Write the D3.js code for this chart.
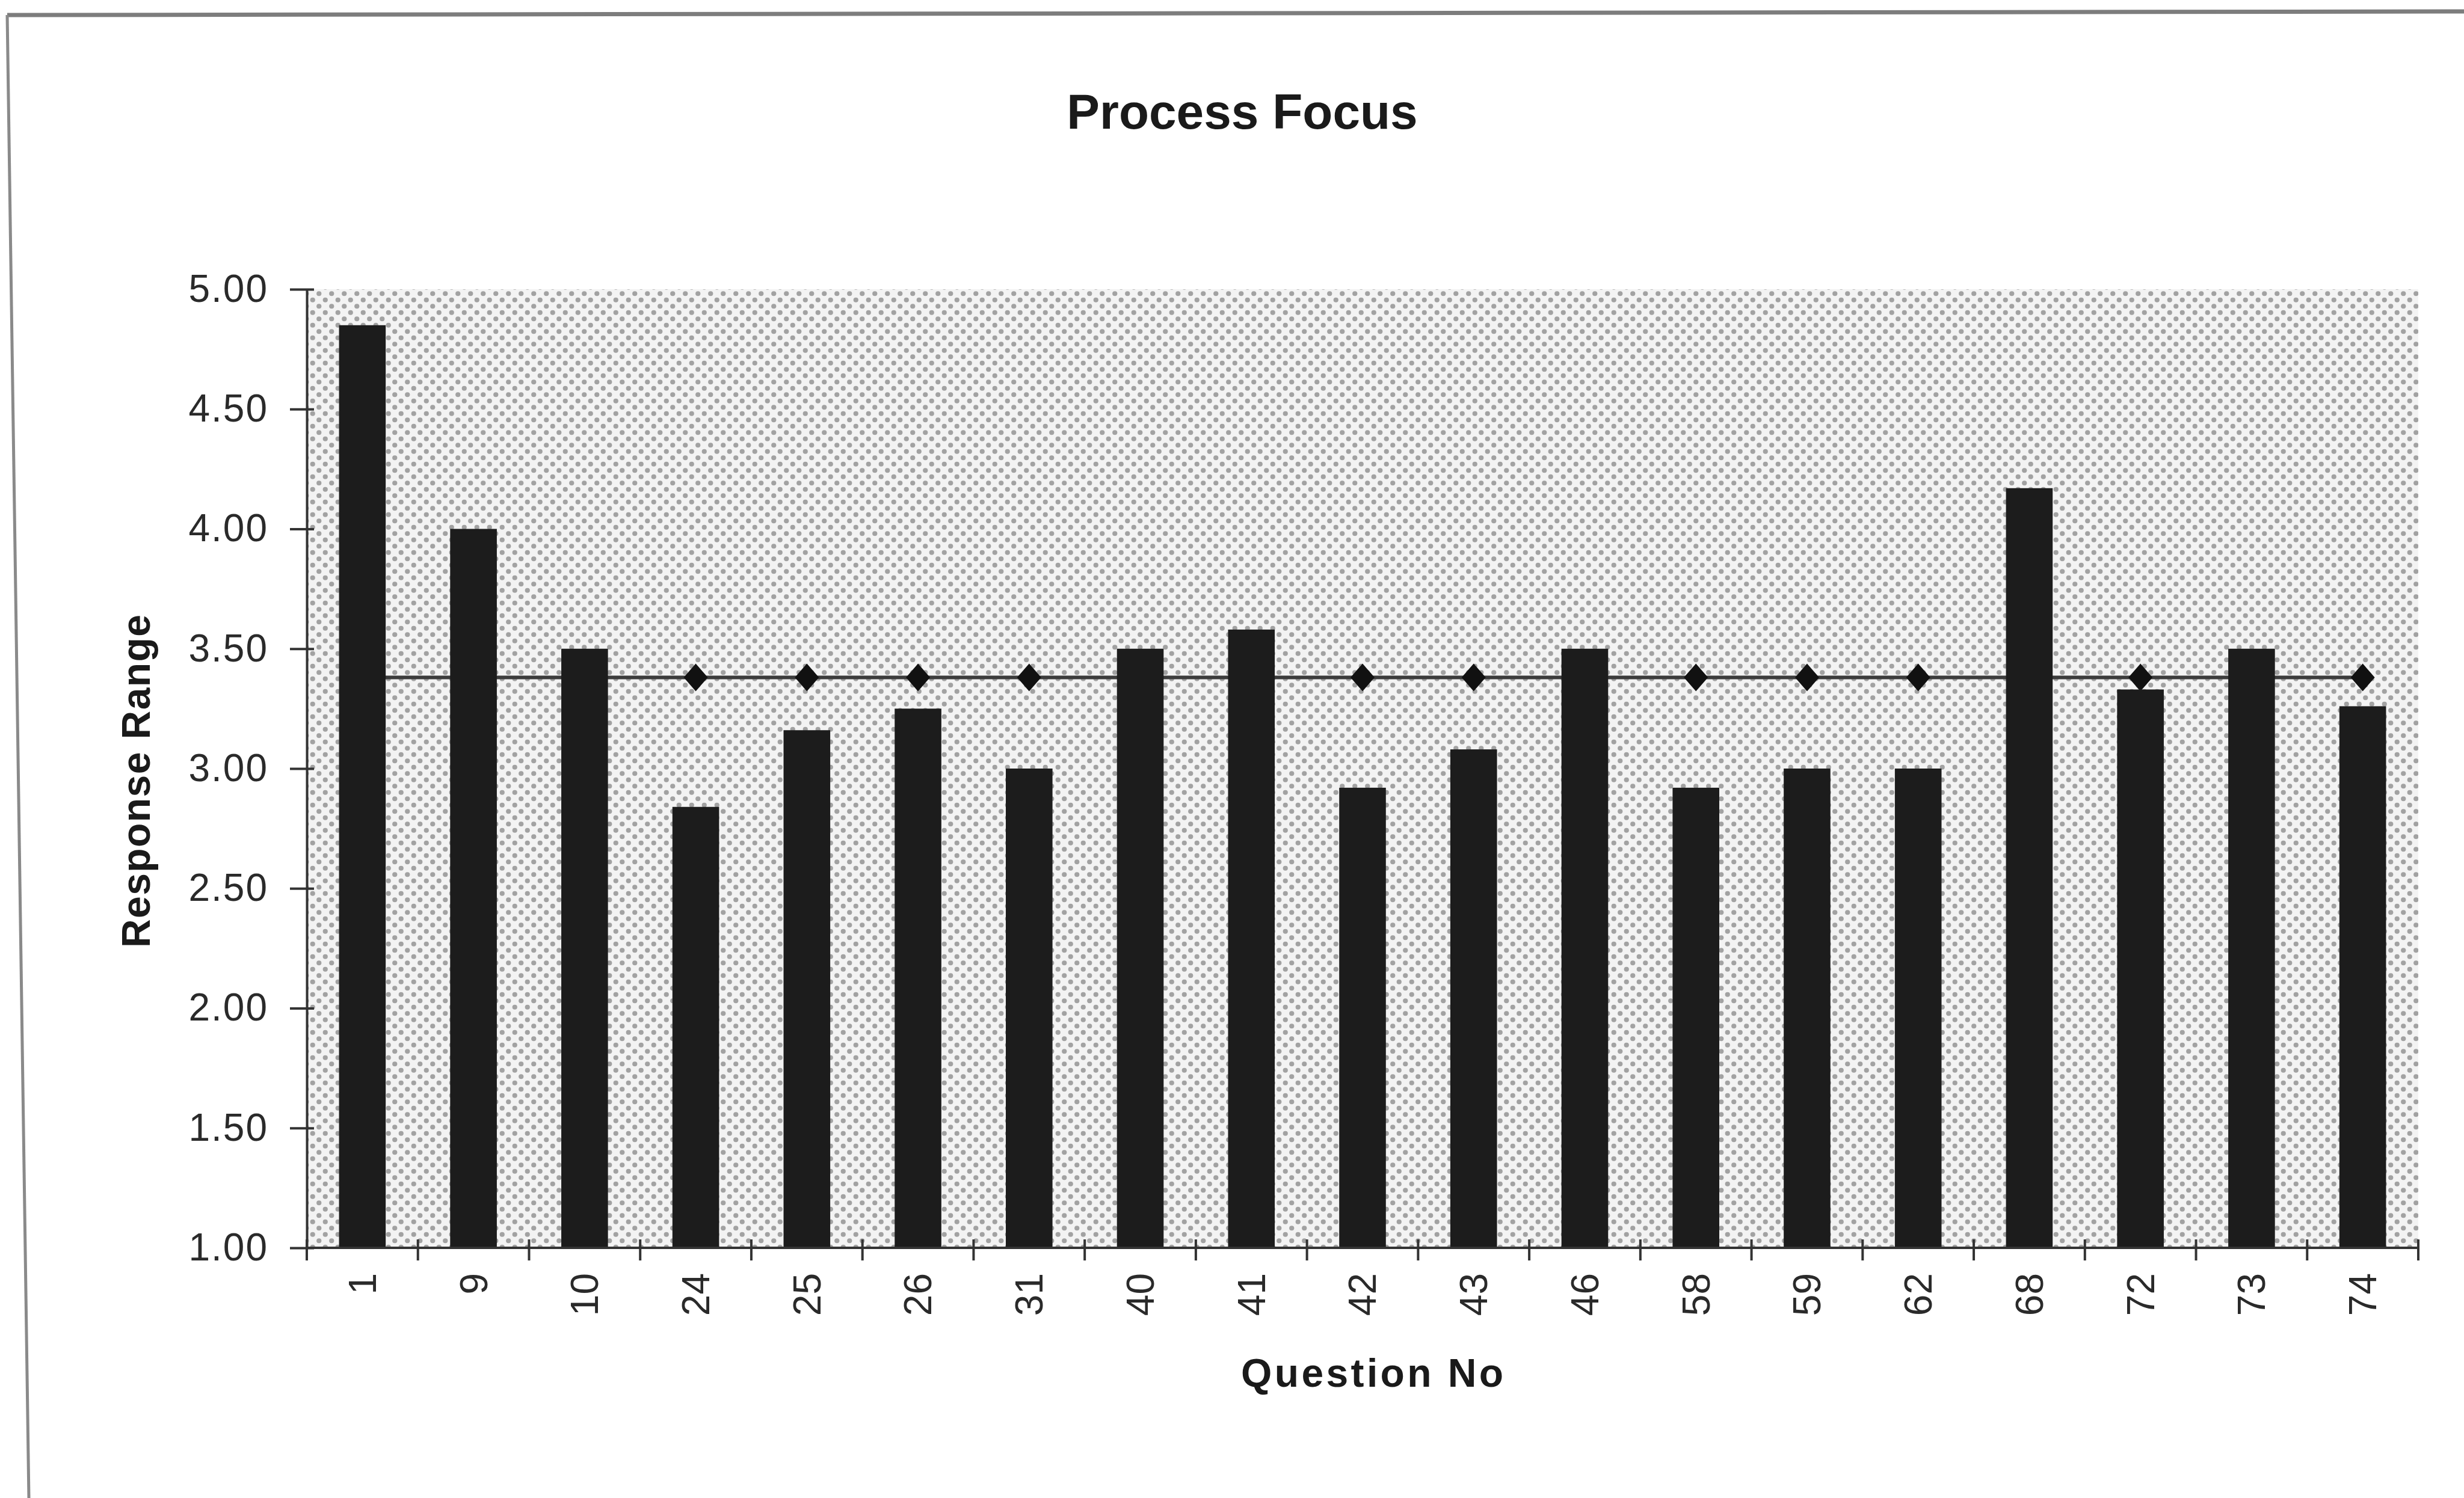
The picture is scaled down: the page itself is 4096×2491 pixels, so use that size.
<!DOCTYPE html>
<html>
<head>
<meta charset="utf-8">
<script src="https://cdnjs.cloudflare.com/ajax/libs/d3/7.8.5/d3.min.js"></script>
<style>
  html, body { margin: 0; padding: 0; background: #ffffff; }
  svg { display: block; }
</style>
</head>
<body>
<script>
// ---- data ----
const categories = ["1","9","10","24","25","26","31","40","41","42","43","46","58","59","62","68","72","73","74"];
const responseValues = [4.85, 4.00, 3.50, 2.84, 3.16, 3.25, 3.00, 3.50, 3.58, 2.92, 3.08, 3.50, 2.92, 3.00, 3.00, 4.17, 3.33, 3.50, 3.26];
const meanValues = [3.38, 3.38, 3.38, 3.38, 3.38, 3.38, 3.38, 3.38, 3.38, 3.38, 3.38, 3.38, 3.38, 3.38, 3.38, 3.38, 3.38, 3.38, 3.38];
const yTickValues = [1.00, 1.50, 2.00, 2.50, 3.00, 3.50, 4.00, 4.50, 5.00];
const titleText = "Process Focus";
const xTitle = "Question No";
const yTitle = "Response Range";

// ---- layout ----
const W = 4096, H = 2491;
const plot = { left: 510, right: 4020, top: 481, bottom: 2075 };

const svg = d3.select("body").append("svg")
  .attr("width", W).attr("height", H)
  .attr("font-family", "Liberation Sans, Arial, sans-serif");

// stipple pattern for plot area
const defs = svg.append("defs");
const pat = defs.append("pattern")
  .attr("id", "stipple")
  .attr("patternUnits", "userSpaceOnUse")
  .attr("width", 21).attr("height", 21);
pat.append("rect").attr("width", 21).attr("height", 21).attr("fill", "#f3f3f3");
pat.append("circle").attr("cx", 5.25).attr("cy", 5.25).attr("r", 4.1).attr("fill", "#a2a2a2");
pat.append("circle").attr("cx", 15.75).attr("cy", 15.75).attr("r", 4.1).attr("fill", "#a2a2a2");

// frame (scanned page border)
svg.append("line").attr("x1", 12).attr("y1", 25).attr("x2", W).attr("y2", 19)
  .attr("stroke", "#7d7d7d").attr("stroke-width", 7);
svg.append("line").attr("x1", 12).attr("y1", 25).attr("x2", 48).attr("y2", H)
  .attr("stroke", "#8a8a8a").attr("stroke-width", 5);

// scales
const x = d3.scaleBand().domain(categories).range([plot.left, plot.right]).paddingInner(0).paddingOuter(0);
const y = d3.scaleLinear().domain([1, 5]).range([plot.bottom, plot.top]);

// plot background
svg.append("rect")
  .attr("x", plot.left).attr("y", plot.top)
  .attr("width", plot.right - plot.left).attr("height", plot.bottom - plot.top)
  .attr("fill", "url(#stipple)");

// mean line (behind bars)
const line = d3.line()
  .x((d, i) => x(categories[i]) + x.bandwidth() / 2)
  .y(d => y(d));
svg.append("path").datum(meanValues)
  .attr("d", line)
  .attr("fill", "none").attr("stroke", "#3c3c3c").attr("stroke-width", 6);

const dw = 20, dh = 23;
svg.append("g").selectAll("path").data(meanValues).join("path")
  .attr("transform", (d, i) => `translate(${x(categories[i]) + x.bandwidth() / 2},${y(d)})`)
  .attr("d", `M0,${-dh}L${dw},0L0,${dh}L${-dw},0Z`)
  .attr("fill", "#111");

// bars
const barW = x.bandwidth() * 0.42;
svg.append("g").selectAll("rect").data(responseValues).join("rect")
  .attr("x", (d, i) => x(categories[i]) + (x.bandwidth() - barW) / 2)
  .attr("y", d => y(d))
  .attr("width", barW)
  .attr("height", d => y(1) - y(d))
  .attr("fill", "#1c1c1c");

// y axis
const yAxis = d3.axisLeft(y).tickValues(yTickValues).tickFormat(d3.format(".2f"))
  .tickSizeInner(28).tickSizeOuter(0).tickPadding(36);
const gy = svg.append("g").attr("transform", `translate(${plot.left},0)`).call(yAxis);
gy.select(".domain").attr("stroke", "#333").attr("stroke-width", 4);
gy.selectAll(".tick line").attr("x1", 12).attr("stroke", "#333").attr("stroke-width", 4);
gy.selectAll(".tick text")
  .attr("font-size", 64).attr("fill", "#2a2a2a")
  .attr("letter-spacing", 2);

// x axis line
svg.append("line")
  .attr("x1", plot.left).attr("x2", plot.right)
  .attr("y1", plot.bottom).attr("y2", plot.bottom)
  .attr("stroke", "#333").attr("stroke-width", 4);

// x boundary ticks (cross)
const bounds = categories.map(c => x(c)).concat([x.range()[1]]);
svg.append("g").selectAll("line").data(bounds).join("line")
  .attr("x1", d => d).attr("x2", d => d)
  .attr("y1", plot.bottom - 14).attr("y2", plot.bottom + 21)
  .attr("stroke", "#333").attr("stroke-width", 4);

// x labels (rotated)
const xAxis = d3.axisBottom(x).tickSize(0).tickPadding(0);
const gx = svg.append("g").attr("transform", `translate(0,${plot.bottom})`).call(xAxis);
gx.select(".domain").remove();
gx.selectAll(".tick text")
  .attr("font-size", 64).attr("fill", "#2a2a2a")
  .attr("text-anchor", "end")
  .attr("transform", "rotate(-90)")
  .attr("x", -42).attr("y", 0).attr("dy", "0.35em");

// title
svg.append("text")
  .attr("x", 2065).attr("y", 214)
  .attr("text-anchor", "middle")
  .attr("font-size", 82).attr("font-weight", "bold").attr("fill", "#1a1a1a")
  .text(titleText);

// x title
svg.append("text")
  .attr("x", 2281).attr("y", 2306)
  .attr("text-anchor", "middle")
  .attr("font-size", 66).attr("font-weight", "bold").attr("fill", "#1a1a1a")
  .attr("textLength", 436).attr("lengthAdjust", "spacing")
  .text(xTitle);

// y title
svg.append("text")
  .attr("transform", `translate(249,1299) rotate(-90)`)
  .attr("text-anchor", "middle")
  .attr("font-size", 66).attr("font-weight", "bold").attr("fill", "#1a1a1a")
  .attr("textLength", 554).attr("lengthAdjust", "spacing")
  .text(yTitle);
</script>
</body>
</html>
